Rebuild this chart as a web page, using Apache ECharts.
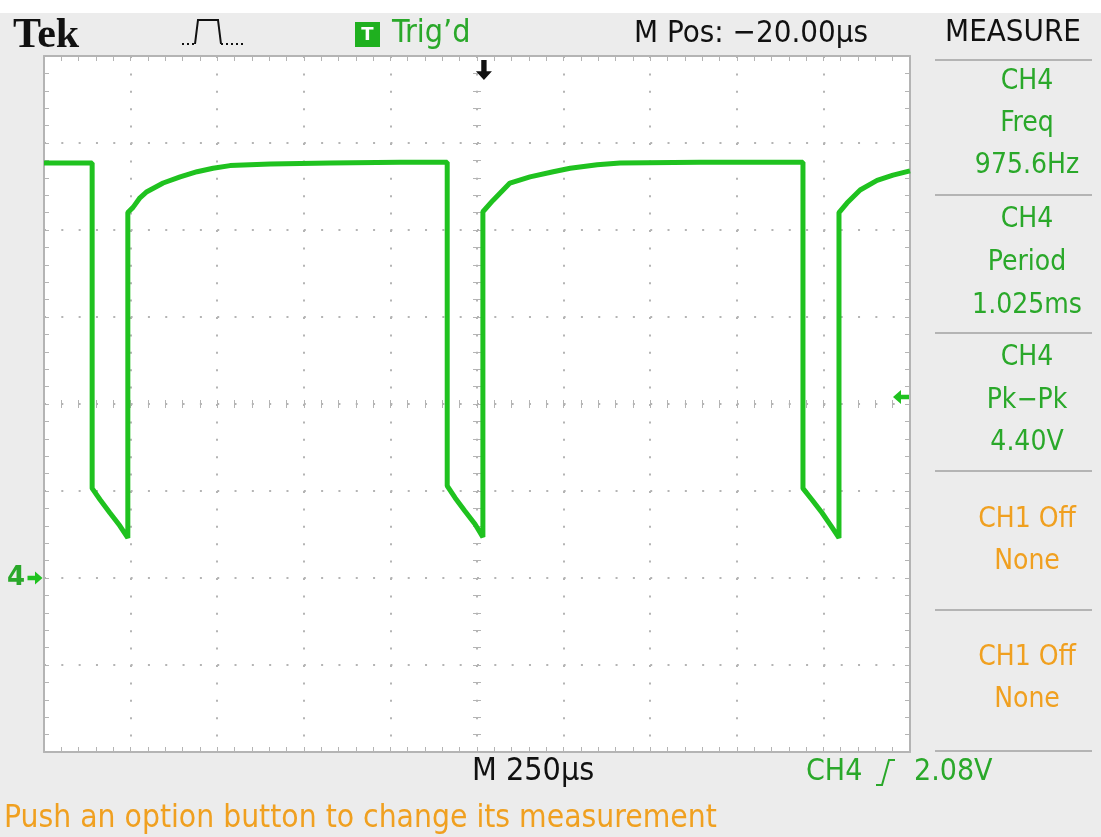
<!DOCTYPE html>
<html>
<head>
<meta charset="utf-8">
<style>
  html, body { margin: 0; padding: 0; background: #ececec; }
  #chart { width: 1101px; height: 837px; }
</style>
<script src="https://cdn.jsdelivr.net/npm/echarts@6/dist/echarts.min.js"></script>
</head>
<body>
<div id="chart"></div>
<script>
// time in microseconds, voltage in volts (CH4, 1 V/div, 250 us/div)
var timeUs = [0, 139, 139, 162, 190, 219, 242, 242, 257, 277, 297, 344, 393, 442, 488, 537, 653, 826, 1028, 1164,
  1164, 1187, 1215, 1244, 1267, 1267, 1296, 1345, 1403, 1470, 1519, 1597, 1663, 1894, 2191,
  2191, 2217, 2246, 2272, 2295, 2295, 2318, 2356, 2405, 2451, 2500]
var volts = [4.77, 4.77, 1.03, 0.90, 0.75, 0.60, 0.46, 4.20, 4.26, 4.37, 4.44, 4.54, 4.61, 4.67, 4.71, 4.74, 4.76, 4.77, 4.78, 4.78,
  1.06, 0.92, 0.77, 0.62, 0.47, 4.21, 4.34, 4.54, 4.61, 4.67, 4.71, 4.75, 4.77, 4.78, 4.78,
  1.03, 0.90, 0.75, 0.60, 0.46, 4.20, 4.31, 4.46, 4.57, 4.63, 4.68]
var triggerTimeUs = 1270
var triggerLevel = 2.08
var measureRows = [
  ['CH4', 'Freq', '975.6Hz'],
  ['CH4', 'Period', '1.025ms'],
  ['CH4', 'Pk\u2212Pk', '4.40V'],
  ['CH1 Off', 'None'],
  ['CH1 Off', 'None']
]

var GREEN = '#2aa82a'
var TRACE = '#1fc21f'
var ORANGE = '#f0a020'
var GRAY = '#b4b4b4'
var FONT = '"DejaVu Sans Condensed", "Liberation Sans Narrow", "DejaVu Sans", sans-serif'

var chart = echarts.init(document.getElementById('chart'))

function frameX(pos, extra) {
  return Object.assign({
    type: 'value', min: 0, max: 2500, interval: 250, position: pos,
    axisLine: { show: true, onZero: false, lineStyle: { color: GRAY, width: 2 } },
    axisTick: { show: true, inside: true, length: 5, lineStyle: { color: GRAY } },
    minorTick: { show: true, splitNumber: 5, length: 5, lineStyle: { color: GRAY } },
    axisLabel: { show: false },
    splitLine: { show: false }
  }, extra)
}
function frameY(pos, extra) {
  return Object.assign({
    type: 'value', min: -2, max: 6, interval: 1, position: pos,
    axisLine: { show: true, onZero: false, lineStyle: { color: GRAY, width: 2 } },
    axisTick: { show: true, inside: true, length: 5, lineStyle: { color: GRAY } },
    minorTick: { show: true, splitNumber: 5, length: 5, lineStyle: { color: GRAY } },
    axisLabel: { show: false },
    splitLine: { show: false }
  }, extra)
}
function centerTicks(inside) {
  return {
    axisLine: { show: false, onZero: false },
    axisTick: { show: true, inside: inside, length: 4, lineStyle: { color: GRAY } },
    minorTick: { show: true, splitNumber: 5, length: 4, lineStyle: { color: GRAY } }
  }
}

var graphics = [
  { type: 'rect', shape: { x: 0, y: 0, width: 1101, height: 13 }, style: { fill: '#fff' } },
  { type: 'text', style: { text: 'Tek', x: 13, y: 36, font: 'bold 42px "Liberation Serif", serif', fill: '#111', textVerticalAlign: 'middle' } },
  { type: 'polyline', shape: { points: [[182, 44], [195, 44]] }, style: { stroke: '#111', lineWidth: 2, lineDash: [2, 3] } },
  { type: 'polyline', shape: { points: [[195, 44], [198, 20], [218, 20], [221, 44]] }, style: { stroke: '#111', lineWidth: 2, fill: null } },
  { type: 'polyline', shape: { points: [[221, 44], [245, 44]] }, style: { stroke: '#111', lineWidth: 2, lineDash: [2, 3] } },
  { type: 'rect', shape: { x: 355, y: 22, width: 25, height: 25 }, style: { fill: '#1fb01f' } },
  { type: 'text', style: { text: 'T', x: 367.5, y: 35, font: 'bold 18px "DejaVu Sans", sans-serif', fill: '#fff', textAlign: 'center', textVerticalAlign: 'middle' } },
  { type: 'text', style: { text: 'Trig\u2019d', x: 392, y: 34, font: '32px ' + FONT, fill: GREEN, textVerticalAlign: 'middle' } },
  { type: 'text', style: { text: 'M Pos: \u221220.00\u00b5s', x: 868, y: 34, font: '31px ' + FONT, fill: '#111', textAlign: 'right', textVerticalAlign: 'middle' } },
  { type: 'text', style: { text: 'MEASURE', x: 1013, y: 33, font: '31px ' + FONT, fill: '#111', textAlign: 'center', textVerticalAlign: 'middle' } },
  { type: 'text', style: { text: 'M 250\u00b5s', x: 472, y: 772, font: '32px ' + FONT, fill: '#111', textVerticalAlign: 'middle' } },
  { type: 'text', style: { text: 'CH4', x: 806, y: 772, font: '30px ' + FONT, fill: GREEN, textVerticalAlign: 'middle' } },
  { type: 'polyline', shape: { points: [[876, 785], [882, 785], [889, 760], [895, 760]] }, style: { stroke: GREEN, lineWidth: 2, fill: null } },
  { type: 'text', style: { text: '2.08V', x: 914, y: 772, font: '30px ' + FONT, fill: GREEN, textVerticalAlign: 'middle' } },
  { type: 'text', style: { text: 'Push an option button to change its measurement', x: 4, y: 819, font: '31.5px ' + FONT, fill: ORANGE, textVerticalAlign: 'middle' } }
]

var sepY = [60, 195, 333, 471, 610, 751]
sepY.forEach(function(y) {
  graphics.push({ type: 'line', shape: { x1: 935, y1: y, x2: 1092, y2: y }, style: { stroke: GRAY, lineWidth: 2 } })
})
var rowY = [[82, 124, 166], [220, 263, 306], [358, 401, 443], [520, 562], [658, 700]]
measureRows.forEach(function(row, i) {
  row.forEach(function(t, j) {
    graphics.push({
      type: 'text',
      style: { text: t, x: 1027, y: rowY[i][j], font: '28px ' + FONT, fill: row.length === 3 ? GREEN : ORANGE, textAlign: 'center', textVerticalAlign: 'middle' }
    })
  })
})

chart.setOption({
  backgroundColor: '#ececec',
  animation: false,
  grid: { left: 44, top: 56, width: 866, height: 696, show: true, backgroundColor: '#fff', borderWidth: 0 },
  xAxis: [
    frameX('bottom', { splitLine: { show: true, lineStyle: { color: GRAY, width: 2, type: [2, 15.4] } } }),
    frameX('top'),
    Object.assign(frameX('bottom', { offset: -348 }), centerTicks(true)),
    Object.assign(frameX('bottom', { offset: -348 }), centerTicks(false))
  ],
  yAxis: [
    frameY('left', {
      splitLine: { show: true, lineStyle: { color: GRAY, width: 2, type: [2, 15.32] } },
      axisLabel: {
        show: true, margin: 19, color: GREEN, fontSize: 26, fontWeight: 'bold', fontFamily: 'DejaVu Sans',
        formatter: function(v) { return v === 0 ? '4' : '' }
      }
    }),
    frameY('right'),
    Object.assign(frameY('left', { offset: -433 }), centerTicks(true)),
    Object.assign(frameY('left', { offset: -433 }), centerTicks(false))
  ],
  series: [{
    type: 'line',
    xAxisIndex: 0,
    yAxisIndex: 0,
    data: timeUs.map(function(t, i) { return [t, volts[i]] }),
    showSymbol: false,
    lineStyle: { color: TRACE, width: 5 },
    markPoint: {
      label: { show: false },
      data: [
        { coord: [triggerTimeUs, 6], symbol: 'path://M4,0 L8,0 L8,9 L12,9 L6,16 L0,9 L4,9 Z', symbolSize: [16, 20], symbolOffset: [0, 14], itemStyle: { color: '#111' } },
        { coord: [2500, triggerLevel], symbol: 'path://M0,6 L7,0 L7,4 L14,4 L14,8 L7,8 L7,12 Z', symbolSize: [16, 14], symbolOffset: [-9, 0], itemStyle: { color: TRACE } },
        { coord: [0, 0], symbol: 'path://M14,6 L7,0 L7,4 L0,4 L0,8 L7,8 L7,12 Z', symbolSize: [15, 13], symbolOffset: [-9, 0], itemStyle: { color: TRACE } }
      ]
    }
  }],
  graphic: graphics
})
</script>
</body>
</html>
